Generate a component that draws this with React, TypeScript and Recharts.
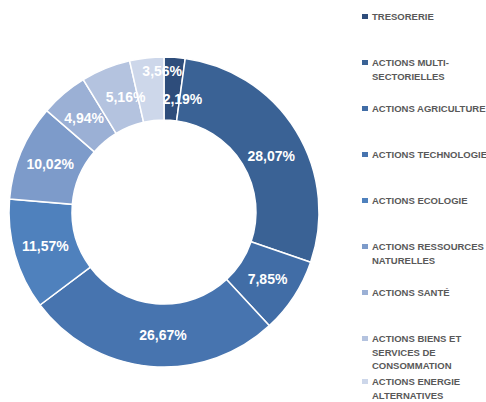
import React from "react";
import { PieChart, Pie, Cell } from "recharts";

const categories = [
  "TRESORERIE",
  "ACTIONS MULTI-SECTORIELLES",
  "ACTIONS AGRICULTURE",
  "ACTIONS TECHNOLOGIE",
  "ACTIONS ECOLOGIE",
  "ACTIONS RESSOURCES NATURELLES",
  "ACTIONS SANTÉ",
  "ACTIONS BIENS ET SERVICES DE CONSOMMATION",
  "ACTIONS ENERGIE ALTERNATIVES",
];

const legendLines = [
  ["TRESORERIE"],
  ["ACTIONS MULTI-", "SECTORIELLES"],
  ["ACTIONS AGRICULTURE"],
  ["ACTIONS TECHNOLOGIE"],
  ["ACTIONS ECOLOGIE"],
  ["ACTIONS RESSOURCES", "NATURELLES"],
  ["ACTIONS SANTÉ"],
  ["ACTIONS BIENS ET", "SERVICES DE", "CONSOMMATION"],
  ["ACTIONS ENERGIE", "ALTERNATIVES"],
];

const values = [2.19, 28.07, 7.85, 26.67, 11.57, 10.02, 4.94, 5.16, 3.56];

const colors = [
  "#2E4D7B",
  "#3A6295",
  "#416DA6",
  "#4774AF",
  "#4F81BD",
  "#7D9BCA",
  "#9BB0D5",
  "#B4C3DF",
  "#CDD7EA",
];

// layout (not data)
const LEGEND_TOP = [10, 56, 102, 148, 194, 240, 286, 332, 375];
const LABEL_NUDGE: [number, number][] = [
  [10, 10],
  [2, 9],
  [0, 0],
  [10, 0],
  [0, 0],
  [0, 0],
  [0, 0],
  [8, -1],
  [12, -18],
];

const data = categories.map((c, i) => ({ name: c, value: values[i] }));

const RAD = Math.PI / 180;

const renderLabel = (props: any) => {
  const { cx, cy, midAngle, innerRadius, outerRadius, index, value } = props;
  const r = (innerRadius + outerRadius) / 2;
  const [dx, dy] = LABEL_NUDGE[index] || [0, 0];
  const x = cx + r * Math.cos(-midAngle * RAD) + dx;
  const y = cy + r * Math.sin(-midAngle * RAD) + dy;
  return (
    <text
      x={x}
      y={y}
      fill="#FFFFFF"
      textAnchor="middle"
      dominantBaseline="central"
      fontFamily="'Liberation Sans', Arial, sans-serif"
      fontWeight="bold"
      fontSize={14}
    >
      {value.toFixed(2).replace(".", ",") + "%"}
    </text>
  );
};

export default function App() {
  return (
    <div
      style={{
        position: "absolute",
        top: 0,
        left: 0,
        width: 486,
        height: 402,
        overflow: "hidden",
        background: "#FFFFFF",
      }}
    >
      <PieChart
        width={486}
        height={402}
        margin={{ top: 0, right: 0, bottom: 0, left: 0 }}
      >
        <Pie
          data={data}
          dataKey="value"
          nameKey="name"
          cx={164}
          cy={212}
          innerRadius={92}
          outerRadius={155}
          startAngle={90}
          endAngle={-270}
          stroke="#FFFFFF"
          strokeWidth={1.5}
          label={renderLabel}
          labelLine={false}
          isAnimationActive={false}
        >
          {data.map((d, i) => (
            <Cell key={d.name} fill={colors[i]} />
          ))}
        </Pie>
      </PieChart>
      {legendLines.map((lines, i) => (
        <div
          key={categories[i]}
          style={{
            position: "absolute",
            left: 362,
            top: LEGEND_TOP[i],
            whiteSpace: "nowrap",
            fontFamily: "'Liberation Sans', Arial, sans-serif",
            fontWeight: "bold",
            fontSize: 9.5,
            lineHeight: "13.5px",
            color: "#595959",
          }}
        >
          <span
            style={{
              position: "absolute",
              left: 0,
              top: 4,
              width: 6,
              height: 5,
              background: colors[i],
            }}
          />
          {lines.map((l, j) => (
            <div key={j} style={{ paddingLeft: 10 }}>
              {l}
            </div>
          ))}
        </div>
      ))}
    </div>
  );
}
